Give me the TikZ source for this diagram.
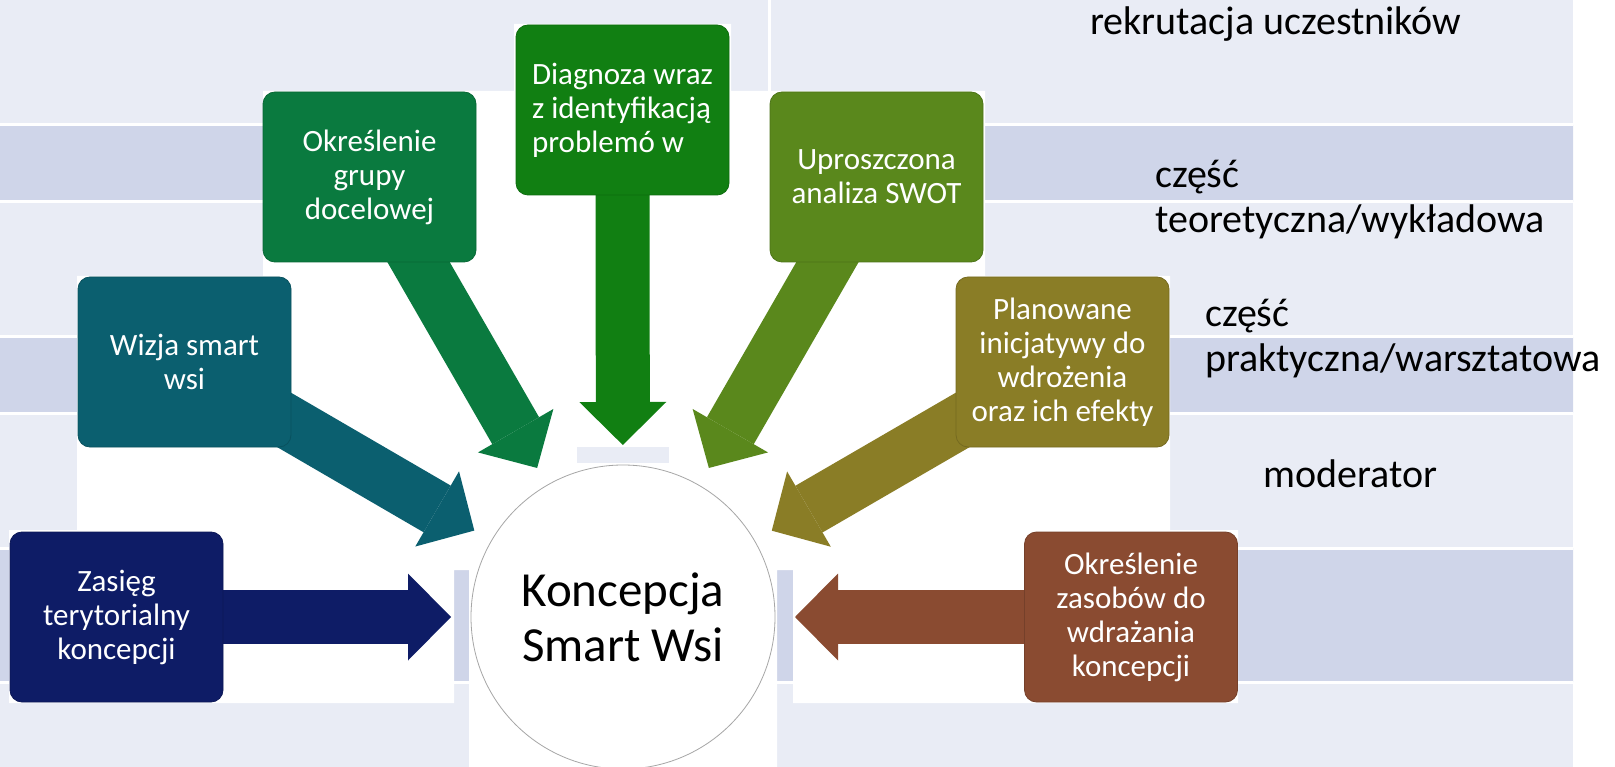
\documentclass[tikz,border=0pt]{standalone}
\usepackage{fontspec}
\setmainfont{Carlito}
\usetikzlibrary{arrows.meta,calc}
\definecolor{rowlight}{HTML}{E9ECF5}
\definecolor{rowdark}{HTML}{CFD5E9}
\definecolor{boxnavy}{HTML}{0E1C66}
\definecolor{boxteal}{HTML}{0B5F6F}
\definecolor{boxgreen}{HTML}{0A7A3F}
\definecolor{boxemerald}{HTML}{117F12}
\definecolor{boxleaf}{HTML}{5A881C}
\definecolor{boxolive}{HTML}{8A7D26}
\definecolor{boxbrown}{HTML}{8A4B31}
\pgfdeclarelayer{paper}
\pgfdeclarelayer{links}
\pgfsetlayers{paper,links,main}
\tikzset{
  box/.style={rounded corners=12pt, minimum width=213pt, minimum height=170pt, inner sep=0pt,
    fill=#1, draw=#1!85!black, line width=0.8pt, text=white, align=center,
    font=\fontsize{31}{34}\selectfont},
  blockarrow/.style={draw=#1, line width=54pt, -{Triangle[width=87pt,length=43pt,line width=0pt]}},
  core/.style={circle, minimum size=304pt, inner sep=0pt, fill=white, draw=black!35,
    line width=0.8pt, align=center, font=\fontsize{49}{55}\selectfont},
  note/.style={anchor=base west, inner sep=0pt, align=left, font=\fontsize{40}{45}\selectfont},
}

\begin{document}
\begin{tikzpicture}[x=1pt,y=-1pt]
  \useasboundingbox (0,0) rectangle (1615,767);
  % table behind the chart
  \begin{pgfonlayer}{paper}
    \fill[rowlight] (0,0) rectangle (1573,767);
    \fill[rowdark] (0,125) rectangle (1573,202) (0,337) rectangle (1573,413) (0,548) rectangle (1573,682);
    \foreach \y in {125,202,337,413,548,682}
      \draw[white,line width=3pt] (0,\y) -- (1573,\y);
    \draw[white,line width=3pt] (769,0) -- (769,125);
    % white ground of the chart
    \fill[white] (514,24) rectangle (731,91) (263,91) rectangle (985,276) (77,276) rectangle (1170,530)
      (9,530) rectangle (454,703) (454,530) rectangle (469,570) (469,530) rectangle (777,767)
      (777,530) rectangle (793,570) (793,530) rectangle (1238,703);
    \fill[rowlight] (577,447) rectangle (669,463);
  \end{pgfonlayer}

  \node[core] (core) at (623,617) {Koncepcja\\Smart Wsi};
  \node[box=boxnavy] (b1) at (116.5,617) {Zasięg\\terytorialny\\koncepcji};
  \node[box=boxteal] (b2) at (184.5,362) {Wizja smart\\wsi};
  \node[box=boxgreen] (b3) at (369.5,177) {Określenie\\grupy\\docelowej};
  \node[box=boxemerald, align=left] (b4) at (622.5,110) {Diagnoza wraz\\z identyfikacją\\problemó w};
  \node[box=boxleaf] (b5) at (876.5,177) {Uproszczona\\analiza SWOT};
  \node[box=boxolive] (b6) at (1062.5,362) {Planowane\\inicjatywy do\\wdrożenia\\oraz ich efekty};
  \node[box=boxbrown] (b7) at (1131,617) {Określenie\\zasobów do\\wdrażania\\koncepcji};

  % arrows into the circle
  \begin{pgfonlayer}{links}
    \foreach \b/\c in {b1/boxnavy,b2/boxteal,b3/boxgreen,b4/boxemerald,b5/boxleaf,b6/boxolive,b7/boxbrown}{
      \path ($(core)!172pt!(\b)$) coordinate (tip-\b);
      \draw[blockarrow=\c] (\b.center) -- (tip-\b);
    }
  \end{pgfonlayer}

  \node[note] (recruit) at (1090,35) {rekrutacja uczestników};
  \node[note] (theory) at (1155,233) {część\\teoretyczna/wykładowa};
  \node[note] (practice) at (1205,371) {część\\praktyczna/warsztatowa};
  \node[note] (moder) at (1263,487) {moderator};
\end{tikzpicture}
\end{document}
